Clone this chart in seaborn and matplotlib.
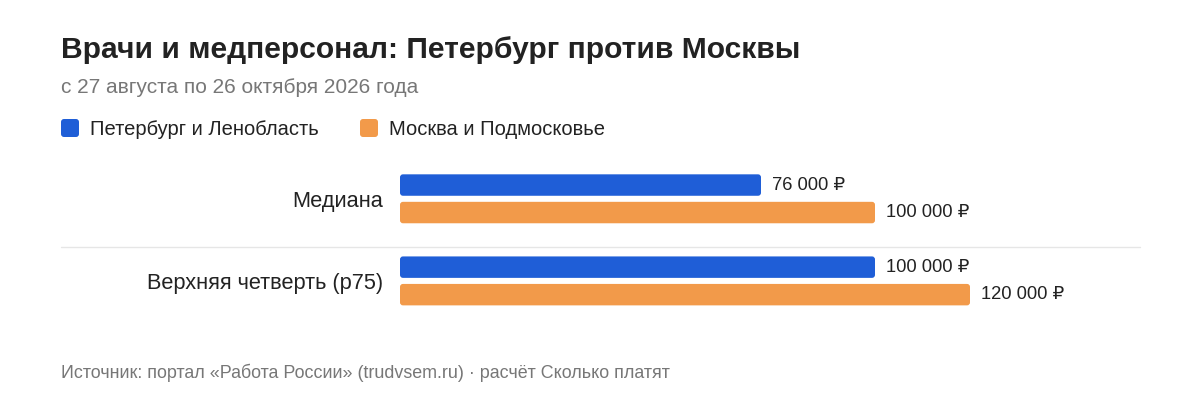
import pandas as pd
import matplotlib
matplotlib.use('Agg')
import matplotlib.pyplot as plt
import seaborn as sns
from matplotlib.patches import FancyBboxPatch
from matplotlib.lines import Line2D

# данные
metrics = ['Медиана', 'Верхняя четверть (p75)']
regions = ['Петербург и Ленобласть', 'Москва и Подмосковье']
spb_values = [76000, 100000]
msk_values = [100000, 120000]
colors = ['#1f5ed7', '#f29a4a']

title = 'Врачи и медперсонал: Петербург против Москвы'
subtitle = 'с 27 августа по 26 октября 2026 года'
source = 'Источник: портал «Работа России» (trudvsem.ru) · расчёт Сколько платят'

df = pd.DataFrame({
    'metric': metrics * 2,
    'region': [regions[0]] * len(metrics) + [regions[1]] * len(metrics),
    'value': spb_values + msk_values,
})

sns.set_theme(style='white')
plt.rcParams['font.family'] = ['Liberation Sans', 'DejaVu Sans']

W, H = 1200, 400
fig = plt.figure(figsize=(12, 4), dpi=100)
fig.patch.set_facecolor('white')

# оси: 0 -> x=400px, 100000 -> x=875px
ax_left, ax_w = 400, 700
ax_top, ax_bot = 160, 320
xmax = ax_w / 475 * 100000
step = 82.1
y_top = 0 - (198.8 - ax_top) / step
y_bot = y_top + (ax_bot - ax_top) / step
ax = fig.add_axes([ax_left / W, 1 - ax_bot / H, ax_w / W, (ax_bot - ax_top) / H])

sns.barplot(data=df, y='metric', x='value', hue='region', orient='h',
            palette=colors, saturation=1, width=55 / step, gap=0.22,
            legend=False, ax=ax)
ax.set_xlim(0, xmax)
ax.set_ylim(y_bot, y_top)
ax.set_xlabel('')
ax.set_ylabel('')
ax.set_xticks([])
sns.despine(ax=ax, left=True, bottom=True)
ax.tick_params(axis='y', length=0, pad=12, labelsize=15.7, labelcolor='#222222')
ax.set_facecolor('none')

# скруглённые бары
px_x = xmax / ax_w
px_y = (y_bot - y_top) / (ax_bot - ax_top)
r = 3
for p in list(ax.patches):
    x0, y0, w, h = p.get_x(), p.get_y(), p.get_width(), p.get_height()
    fc = p.get_facecolor()
    p.remove()
    if w <= 0:
        continue
    fb = FancyBboxPatch((x0, y0), w, h,
                        boxstyle=f'round,pad=0,rounding_size={r * px_x}',
                        mutation_aspect=px_y / px_x, fc=fc, ec='none')
    ax.add_patch(fb)
    ax.annotate(f'{int(x0 + w):,} ₽'.replace(',', ' '), (x0 + w, y0 + h / 2),
                xytext=(8, 0), textcoords='offset points', va='center', ha='left',
                fontsize=13.2, color='#222222')

# заголовки
fig.text(61 / W, 1 - 58 / H, title, fontsize=21.6, weight='bold', color='#222222', va='baseline')
fig.text(61 / W, 1 - 93 / H, subtitle, fontsize=15, color='#777777', va='baseline')

# легенда
lx = [61, 360]
for i, name in enumerate(regions):
    sq = FancyBboxPatch((lx[i] / W, 1 - 137 / H), 18 / W, 18 / H,
                        boxstyle=f'round,pad=0,rounding_size={3 / W}',
                        mutation_aspect=W / H, transform=fig.transFigure,
                        fc=colors[i], ec='none')
    fig.patches.append(sq)
    fig.text((lx[i] + 29) / W, 1 - 135 / H, name, fontsize=14.5, color='#222222', va='baseline')

# разделитель
fig.add_artist(Line2D([61 / W, 1140 / W], [1 - 247 / H] * 2, color='#e6e6e6', lw=1))

fig.text(61 / W, 1 - 378 / H, source, fontsize=12.9, color='#777777', va='baseline')

fig.savefig('out.png', dpi=100, facecolor='white')
